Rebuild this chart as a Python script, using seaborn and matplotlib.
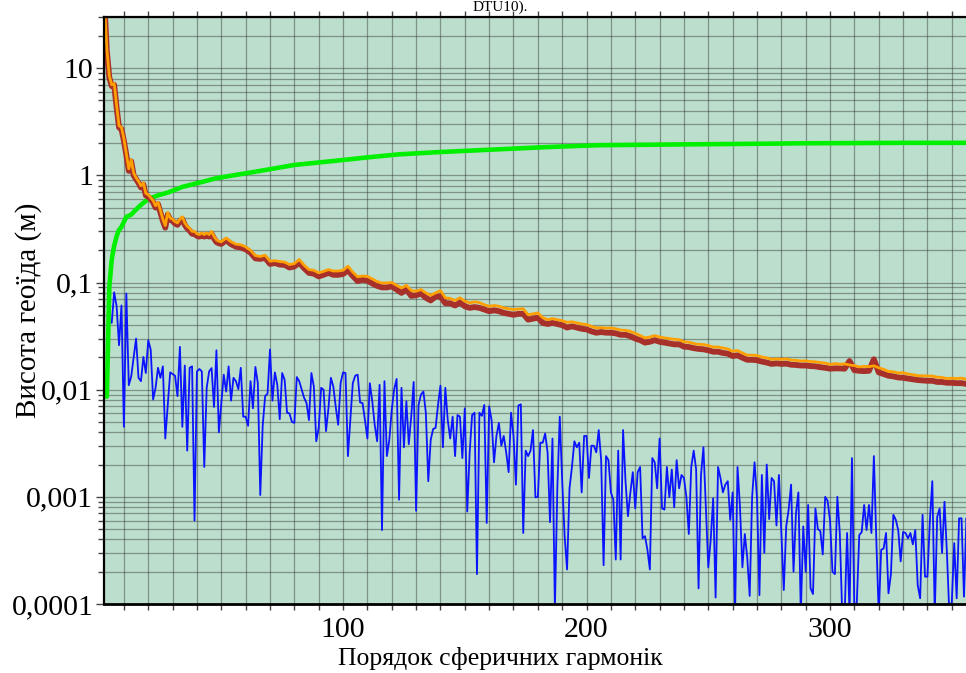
import numpy as np
import matplotlib
matplotlib.use("Agg")
import matplotlib.pyplot as plt
import seaborn as sns
from matplotlib.ticker import LogLocator, MultipleLocator, NullFormatter

# ---------------- data ----------------
# Orange line (model 1): degree 2..50 every degree, then even degrees 52..360
orange_n = list(range(2, 51)) + list(range(52, 361, 2))
orange_v = [
    40, 15, 8.5, 7.0, 7.2, 4.5, 2.9, 2.8,
    2.2, 1.6, 1.15, 1.4, 1.05, 0.95, 0.88, 0.80, 0.85, 0.68,
    0.66, 0.62, 0.58, 0.52, 0.56, 0.47, 0.39, 0.34, 0.45, 0.40,
    0.39, 0.37, 0.36, 0.39, 0.41, 0.36, 0.335, 0.32, 0.30, 0.30,
    0.285, 0.28, 0.29, 0.28, 0.29, 0.28, 0.30, 0.27, 0.25, 0.243, 0.24,
    0.26, 0.24, 0.228, 0.225, 0.215, 0.20, 0.178, 0.175, 0.18, 0.158,
    0.16, 0.157, 0.155, 0.147, 0.15, 0.164, 0.145, 0.132, 0.13, 0.123,
    0.127, 0.132, 0.128, 0.128, 0.13, 0.142, 0.125, 0.113, 0.115, 0.114,
    0.108, 0.102, 0.099, 0.099, 0.100, 0.094, 0.089, 0.094, 0.084, 0.083,
    0.086, 0.080, 0.076, 0.080, 0.084, 0.072, 0.071, 0.068, 0.072, 0.067,
    0.0646, 0.066, 0.065, 0.062, 0.060, 0.061, 0.060, 0.058, 0.0568, 0.056,
    0.0565, 0.0568, 0.050, 0.051, 0.052, 0.047, 0.045, 0.046, 0.045, 0.044,
    0.0425, 0.043, 0.042, 0.041, 0.0405, 0.039, 0.0377, 0.038, 0.0375, 0.0377,
    0.037, 0.036, 0.0358, 0.035, 0.0335, 0.032, 0.0304, 0.031, 0.032, 0.031,
    0.0304, 0.030, 0.0295, 0.0293, 0.028, 0.0277, 0.027, 0.0265, 0.0264, 0.0258,
    0.025, 0.025, 0.0245, 0.024, 0.0228, 0.0232, 0.022, 0.021, 0.021, 0.0208,
    0.0202, 0.0198, 0.0192, 0.0194, 0.0192, 0.0194, 0.0189, 0.0188, 0.0185, 0.0186,
    0.0183, 0.0182, 0.0179, 0.0177, 0.0172, 0.0175, 0.0173, 0.0174, 0.017, 0.0168,
    0.0163, 0.0165, 0.0164, 0.0167, 0.016, 0.0155, 0.0148, 0.0147, 0.0143, 0.0144,
    0.014, 0.0138, 0.0135, 0.0135, 0.0134, 0.0134, 0.0131, 0.013, 0.0127, 0.0128,
    0.0127, 0.0128, 0.0125, 0.0124, 0.0123,
]

# Brown line (model 2), same degrees
brown_n = list(range(2, 51)) + list(range(52, 361, 2))
brown_v = [
    40, 14.5, 8.2, 6.8, 7.0, 4.3, 2.8, 2.7,
    2.1, 1.55, 1.1, 1.35, 1.0, 0.92, 0.85, 0.77, 0.82, 0.65,
    0.63, 0.6, 0.56, 0.5, 0.54, 0.45, 0.375, 0.325, 0.43, 0.385,
    0.375, 0.355, 0.345, 0.375, 0.39, 0.345, 0.32, 0.305, 0.285, 0.285,
    0.272, 0.268, 0.277, 0.268, 0.277, 0.268, 0.285, 0.258, 0.238, 0.232, 0.229,
    0.248, 0.228, 0.216, 0.212, 0.204, 0.19, 0.168, 0.166, 0.17, 0.149,
    0.152, 0.147, 0.146, 0.138, 0.141, 0.153, 0.136, 0.123, 0.121, 0.114,
    0.118, 0.123, 0.118, 0.118, 0.12, 0.13, 0.115, 0.103, 0.106, 0.104,
    0.098, 0.093, 0.09, 0.09, 0.092, 0.086, 0.08, 0.086, 0.075, 0.076,
    0.079, 0.072, 0.068, 0.074, 0.074, 0.064, 0.064, 0.061, 0.065, 0.06,
    0.058, 0.059, 0.058, 0.056, 0.054, 0.055, 0.054, 0.052, 0.051, 0.05,
    0.051, 0.051, 0.045, 0.046, 0.047, 0.042, 0.041, 0.042, 0.041, 0.04,
    0.038, 0.039, 0.038, 0.037, 0.0365, 0.035, 0.034, 0.0345, 0.034, 0.034,
    0.0335, 0.0325, 0.0325, 0.0315, 0.030, 0.029, 0.0275, 0.028, 0.029, 0.028,
    0.0275, 0.027, 0.0265, 0.0265, 0.0252, 0.025, 0.0244, 0.024, 0.0238, 0.0233,
    0.0226, 0.0226, 0.022, 0.0217, 0.0206, 0.0209, 0.0199, 0.019, 0.019, 0.0188,
    0.0183, 0.0179, 0.0174, 0.0176, 0.0174, 0.0175, 0.0171, 0.017, 0.0168, 0.0168,
    0.0166, 0.0165, 0.0162, 0.016, 0.0157, 0.0158, 0.0158, 0.0157, 0.0185, 0.0152,
    0.015, 0.0149, 0.015, 0.0192, 0.0145, 0.014, 0.0135, 0.0133, 0.013, 0.0129,
    0.0127, 0.0125, 0.0123, 0.0122, 0.0121, 0.0121, 0.0118, 0.0118, 0.0116, 0.0116,
    0.0115, 0.0115, 0.0113, 0.0112, 0.0111,
]

# Green line (cumulative)
green_n = [3, 4, 5, 6, 7, 8, 9, 11, 13, 15,
           17, 20, 24, 28, 34, 41, 48, 55, 66, 80,
           96, 110, 123, 140, 164, 185, 205, 225, 247, 270,
           288, 310, 330, 360]
green_v = [0.0086, 0.09, 0.164, 0.22, 0.27, 0.31, 0.33, 0.41, 0.43, 0.48,
           0.53, 0.60, 0.65, 0.69, 0.78, 0.855, 0.94, 1.0, 1.10, 1.25,
           1.36, 1.47, 1.57, 1.65, 1.75, 1.84, 1.91, 1.93, 1.95, 1.97,
           1.99, 2.0, 2.01, 2.01]

# Blue line (per-degree difference)
blue_n_head = [5, 6, 7, 8, 9, 10, 11, 12, 13,
               15, 16, 17, 18, 19, 20, 21, 22, 23, 24, 25, 26, 27,
               29,
               31, 32, 33, 34, 35, 36, 37, 38, 39, 40, 41, 42, 43, 44, 45, 46, 47, 48, 49,
               51, 52, 53, 54, 55, 56, 57, 58, 59, 60, 61, 62, 63, 64, 65, 66, 67, 68, 69, 70,
               71, 72, 73, 74, 75, 76, 77, 78, 79, 80, 81, 82,
               84, 85, 86, 87, 88, 89, 90, 91, 92, 93, 94, 95, 96, 97, 98, 99, 100, 101, 102]
blue_v_head = [
    0.042, 0.081, 0.060, 0.026, 0.061, 0.0045, 0.079, 0.011, 0.0133, 0.030,
    0.0129, 0.0120, 0.0202, 0.0143, 0.0289, 0.0237, 0.0081, 0.0104, 0.016, 0.0129,
    0.0165, 0.0035, 0.0145, 0.0135, 0.0087, 0.0251, 0.0045, 0.0168, 0.0027, 0.016,
    0.0165, 0.0006, 0.0148, 0.0156, 0.0148, 0.0019, 0.0104, 0.0148, 0.0159, 0.0069,
    0.0233, 0.0040, 0.0138, 0.0096, 0.0165, 0.0079, 0.0129, 0.0120, 0.0101, 0.016,
    0.0056, 0.0056, 0.0046, 0.0120, 0.0067, 0.0163, 0.0115, 0.00104, 0.0046, 0.0087,
    0.0092, 0.0237, 0.0079, 0.0145, 0.0111, 0.0053, 0.0143, 0.0124, 0.0061, 0.0060,
    0.0050, 0.0049, 0.0131, 0.0120, 0.0084, 0.0075, 0.0052, 0.0143, 0.0107, 0.0033,
    0.0044, 0.0104, 0.0100, 0.0041, 0.0067, 0.0129, 0.0107, 0.0069, 0.0047, 0.0115,
    0.0145, 0.0143, 0.0024,
]
blue_n_tail = list(range(103, 358))
blue_v_tail = [
    0.0052, 0.0115, 0.0135, 0.0138, 0.0076, 0.0075, 0.0052,
    0.0035, 0.0115, 0.0078, 0.0047, 0.0033, 0.0111, 0.00049, 0.0120, 0.0024, 0.0034,
    0.0065, 0.0101, 0.0126, 0.00094, 0.0104, 0.0029, 0.0078, 0.0031, 0.0056, 0.0118,
    0.00074, 0.0072, 0.0090, 0.0096, 0.0061, 0.0014, 0.0034, 0.0043, 0.0044, 0.0072,
    0.0109, 0.0029, 0.0104, 0.0052, 0.0035, 0.0056, 0.0024, 0.0058, 0.0056, 0.0023,
    0.0067, 0.00073, 0.0026, 0.0058, 0.0061, 0.00019, 0.0061, 0.0057, 0.0072, 0.00057,
    0.0070, 0.0052, 0.0021, 0.0037, 0.0049, 0.0030, 0.0037, 0.0026, 0.0017, 0.0061,
    0.0037, 0.0013, 0.0071, 0.0073, 0.00046, 0.0027, 0.0024, 0.0027, 0.0042, 0.00099,
    0.0010, 0.0032, 0.0032, 0.0039, 0.0026, 0.00058, 0.0035, 0.00009, 0.0012, 0.0056,
    0.0014, 0.00043, 0.00021, 0.0012, 0.0019, 0.0033, 0.0029, 0.0032, 0.0011, 0.0037,
    0.0037, 0.0015, 0.0030, 0.0030, 0.0026, 0.0042, 0.0022, 0.00023, 0.0024, 0.0022,
    0.0011, 0.00094, 0.00026, 0.0027, 0.00026, 0.0042, 0.0014, 0.00066, 0.0011, 0.0017,
    0.00078, 0.0017, 0.0019, 0.00041, 0.00043, 0.00032, 0.00021, 0.0023, 0.0021, 0.0012,
    0.0035, 0.00078, 0.00076, 0.0019, 0.00099, 0.0018, 0.0008, 0.0022, 0.0012, 0.0016,
    0.0015, 0.0010, 0.00045, 0.0019, 0.0027, 0.0018, 0.00014, 0.0016, 0.0029, 0.00078,
    0.00022, 0.0004, 0.00097, 0.000115, 0.0019, 0.0015, 0.0011, 0.0013, 0.0014, 0.00061,
    0.0011, 0.00008, 0.0019, 0.00081, 0.00022, 0.00045, 0.00027, 0.000119, 0.0010, 0.0021,
    0.00097, 0.000121, 0.0016, 0.0003, 0.0020, 0.00062, 0.0015, 0.0014, 0.00054, 0.0016,
    0.00047, 0.000135, 0.00053, 0.00076, 0.0013, 0.0002, 0.0007, 0.0011, 0.00008, 0.00053,
    0.0002, 0.00084, 0.00014, 0.000124, 0.00078, 0.0005, 0.00048, 0.00029, 0.0010, 0.00092,
    0.0006, 0.0002, 0.00019, 0.0010, 0.00046, 0.00008, 0.00008, 0.00046, 0.00008, 0.0023,
    0.00008, 0.000105, 0.00044, 0.00047, 0.00084, 0.00049, 0.00084, 0.00046, 0.0024, 0.0004,
    0.00008, 0.00032, 0.00033, 0.00046, 0.000126, 0.00019, 0.00068, 0.00061, 0.00049, 0.00025,
    0.00047, 0.00046, 0.00041, 0.00046, 0.00036, 0.00049, 0.00015, 0.000113, 0.00068, 0.00018,
    0.00018, 0.0006, 0.0014, 0.00008, 0.00065, 0.00078, 0.0003, 0.0009, 0.0003, 0.00008,
    0.000105, 0.00037, 0.000113, 0.00063, 0.00063, 0.000117, 0.00063, 0.0005,
]
blue_n = blue_n_head + blue_n_tail
blue_v = blue_v_head + blue_v_tail

y_ticks = [1e-4, 1e-3, 1e-2, 1e-1, 1, 10]
y_labels = ["0,0001", "0,001", "0,01", "0,1", "1", "10"]
x_ticks = [100, 200, 300]
x_labels = ["100", "200", "300"]

title_text = "DTU10)."
x_title = "Порядок сферичних гармонік"
y_title = "Висота геоїда (м)"

# ---------------- plot ----------------
sns.set_theme(style="ticks")
plt.rcParams['font.family'] = ['Liberation Serif', 'DejaVu Serif']

fig = plt.figure(figsize=(9.66, 6.73), dpi=100)
ax = fig.add_axes([0.1081, 0.1025, 0.9024, 0.8722])
ax.set_facecolor('#bcdecc')

sns.lineplot(x=green_n, y=green_v, ax=ax, color='#00f000', linewidth=3.3,
             estimator=None, sort=False)
sns.lineplot(x=blue_n, y=blue_v, ax=ax, color='#0a14ff', linewidth=1.3,
             estimator=None, sort=False)
sns.lineplot(x=brown_n, y=brown_v, ax=ax, color='#a8302a', linewidth=4.2,
             estimator=None, sort=False)
sns.lineplot(x=orange_n, y=orange_v, ax=ax, color='#ffa000', linewidth=2.0,
             estimator=None, sort=False)

ax.set_yscale('log')
ax.set_ylim(1e-4, 30)
ax.set_xlim(2, 360)

ax.set_yticks(y_ticks, labels=y_labels)
ax.yaxis.set_minor_locator(LogLocator(base=10, subs=np.arange(2, 10) * 1.0, numticks=50))
ax.yaxis.set_minor_formatter(NullFormatter())
ax.set_xticks(x_ticks, labels=x_labels)
ax.xaxis.set_minor_locator(MultipleLocator(10))

ax.set_axisbelow(True)
ax.grid(True, which='both', color='#222222', alpha=0.4, linewidth=0.9)

ax.tick_params(which='both', direction='out', top=True, right=False,
               colors='#444444', labelcolor='black', width=1.0)
ax.tick_params(which='major', length=6, labelsize=21.5, pad=2)
ax.tick_params(which='minor', length=4)
ax.tick_params(axis='x', which='major', pad=5)
ax.tick_params(axis='x', which='both', top=True, length=4)

ax.spines['right'].set_visible(False)
for s, lw in [('left', 1.6), ('bottom', 2.0), ('top', 1.6)]:
    ax.spines[s].set_color('black')
    ax.spines[s].set_linewidth(lw)

ax.set_xlabel(x_title, fontsize=18.5, color='black')
ax.xaxis.set_label_coords(0.454, -0.074)
ax.set_ylabel(y_title, fontsize=21, color='black')
ax.yaxis.set_label_coords(-0.072, 0.501)

fig.text(500 / 966, 1 - 11 / 673, title_text, ha='center', va='baseline',
         fontsize=11, color='black')

fig.savefig('out.png', dpi=100, facecolor='white')
